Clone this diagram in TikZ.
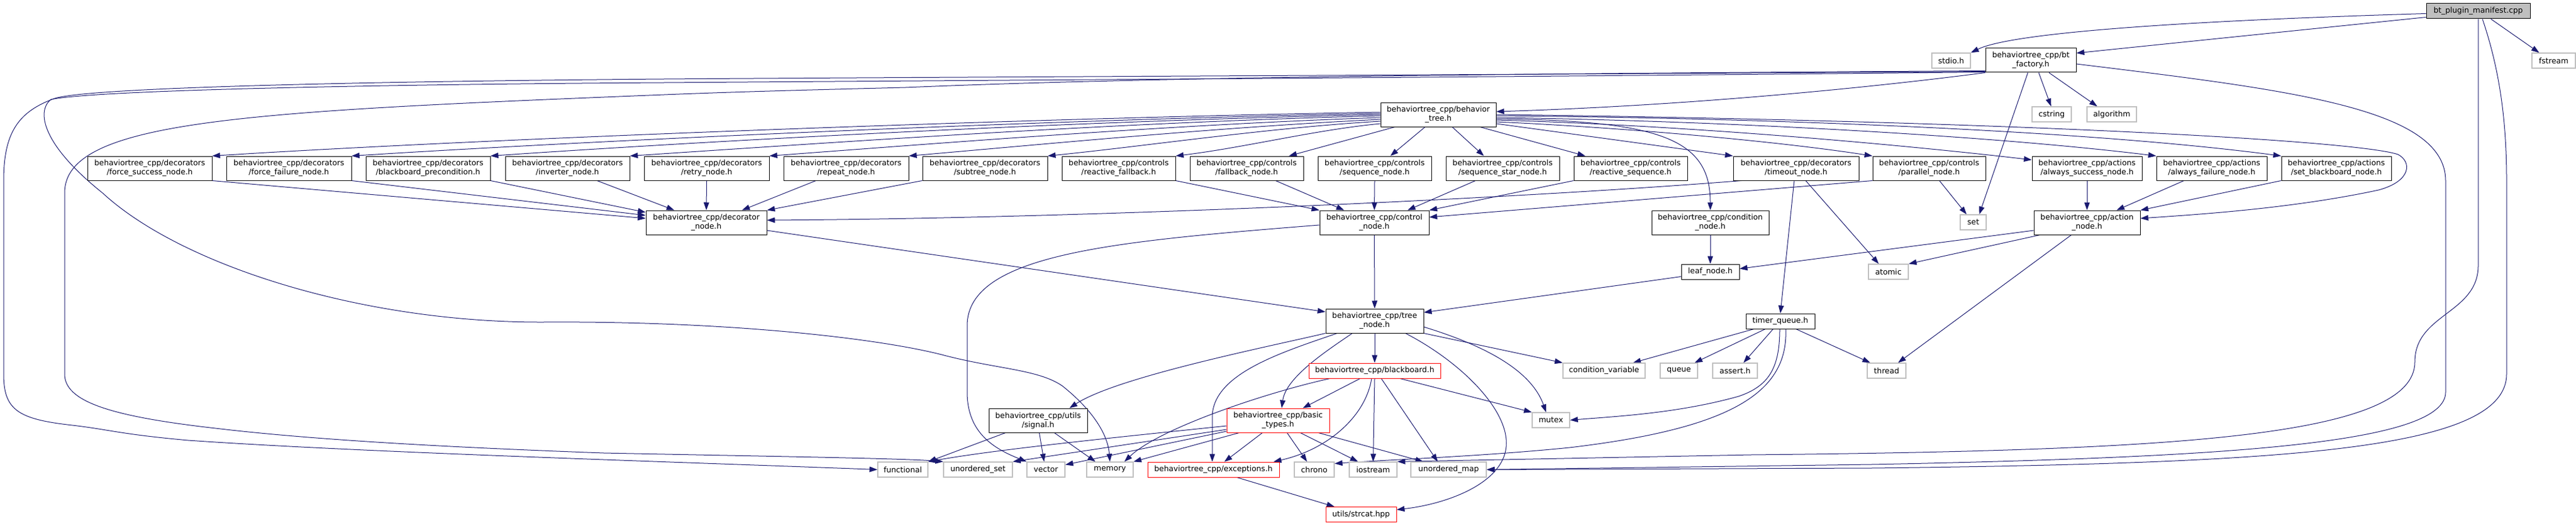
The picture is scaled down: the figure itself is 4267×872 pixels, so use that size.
\documentclass[tikz,border=0pt]{standalone}
\usepackage{fontspec}
\setmainfont{DejaVu Sans}
\usetikzlibrary{arrows.meta}
\definecolor{edgec}{HTML}{191970}
\definecolor{sysg}{HTML}{BFBFBF}
\definecolor{trred}{HTML}{FF0000}
\pgfdeclarelayer{bg}
\pgfsetlayers{bg,main}
\newcommand{\nodefnt}{\fontsize{12.7}{15}\selectfont}
\begin{document}
\begin{tikzpicture}[x=1pt,y=-1pt,
  box/.style={rectangle,draw=black,fill=white,line width=1pt,inner sep=0pt,align=center,font=\nodefnt,minimum height=40pt},
  one/.style={minimum height=25pt},
  sys/.style={box,one,draw=sysg,line width=1.3pt},
  trc/.style={draw=trred},
  edg/.style={draw=edgec,line width=1pt,-{Triangle[length=13pt,width=9pt]}}]
\useasboundingbox (0,0) rectangle (4267,872);
% ---------- nodes ----------
\node[box,one,fill=sysg,minimum width=172pt] (man) at (4105,18.5) {bt\_plugin\_manifest.cpp};
\node[box,minimum width=150pt] (fac) at (3364,100) {behaviortree\_cpp/bt\\\_factory.h};
\node[sys,minimum width=64pt] (stdio) at (3232,100.5) {stdio.h};
\node[sys,minimum width=72pt] (fstr) at (4230,100.5) {fstream};
\node[sys,minimum width=65pt] (cstr) at (3398.5,189.5) {cstring};
\node[sys,minimum width=82pt] (algo) at (3498,189.5) {algorithm};
\node[box,minimum width=191pt] (bt) at (2382.5,190) {behaviortree\_cpp/behavior\\\_tree.h};
\node[box,minimum width=206pt] (fs) at (248,279) {behaviortree\_cpp/decorators\\/force\_success\_node.h};
\node[box,minimum width=207pt] (ff) at (478.5,279) {behaviortree\_cpp/decorators\\/force\_failure\_node.h};
\node[box,minimum width=206pt] (bbp) at (709,279) {behaviortree\_cpp/decorators\\/blackboard\_precondition.h};
\node[box,minimum width=206pt] (inv) at (940,279) {behaviortree\_cpp/decorators\\/inverter\_node.h};
\node[box,minimum width=207pt] (retry) at (1170.5,279) {behaviortree\_cpp/decorators\\/retry\_node.h};
\node[box,minimum width=207pt] (rep) at (1401.5,279) {behaviortree\_cpp/decorators\\/repeat\_node.h};
\node[box,minimum width=207pt] (sub) at (1631.5,279) {behaviortree\_cpp/decorators\\/subtree\_node.h};
\node[box,minimum width=188pt] (rfb) at (1853,279) {behaviortree\_cpp/controls\\/reactive\_fallback.h};
\node[box,minimum width=188pt] (fb) at (2065,279) {behaviortree\_cpp/controls\\/fallback\_node.h};
\node[box,minimum width=188pt] (seq) at (2277,279) {behaviortree\_cpp/controls\\/sequence\_node.h};
\node[box,minimum width=188pt] (seqs) at (2489,279) {behaviortree\_cpp/controls\\/sequence\_star\_node.h};
\node[box,minimum width=188pt] (rseq) at (2701,279) {behaviortree\_cpp/controls\\/reactive\_sequence.h};
\node[box,minimum width=208pt] (tmo) at (2975,279) {behaviortree\_cpp/decorators\\/timeout\_node.h};
\node[box,minimum width=187pt] (par) at (3195.5,279) {behaviortree\_cpp/controls\\/parallel\_node.h};
\node[box,minimum width=182pt] (as) at (3457,279) {behaviortree\_cpp/actions\\/always\_success\_node.h};
\node[box,minimum width=183pt] (af) at (3663.5,279) {behaviortree\_cpp/actions\\/always\_failure\_node.h};
\node[box,minimum width=182pt] (sb) at (3870,279) {behaviortree\_cpp/actions\\/set\_blackboard\_node.h};
\node[box,minimum width=200pt] (dec) at (1170,369) {behaviortree\_cpp/decorator\\\_node.h};
\node[box,minimum width=181pt] (ctrl) at (2276.5,369) {behaviortree\_cpp/control\\\_node.h};
\node[box,minimum width=194pt] (cond) at (2833,369) {behaviortree\_cpp/condition\\\_node.h};
\node[sys,minimum width=43pt] (setn) at (3268.5,368.5) {set};
\node[box,minimum width=176pt] (act) at (3457,369) {behaviortree\_cpp/action\\\_node.h};
\node[box,one,minimum width=96pt] (leaf) at (2833,450.5) {leaf\_node.h};
\node[sys,minimum width=66pt] (atom) at (3128,450.5) {atomic};
\node[box,minimum width=162pt] (tn) at (2277,532) {behaviortree\_cpp/tree\\\_node.h};
\node[box,one,minimum width=114pt] (tq) at (2949,532.5) {timer\_queue.h};
\node[box,one,trc,minimum width=218pt] (bb) at (2277,614.5) {behaviortree\_cpp/blackboard.h};
\node[sys,minimum width=136pt] (cv) at (2657,614.5) {condition\_variable};
\node[sys,minimum width=62pt] (que) at (2781,614.5) {queue};
\node[sys,minimum width=74pt] (asrt) at (2874,614.5) {assert.h};
\node[sys,minimum width=64pt] (thr) at (3125,614.5) {thread};
\node[box,minimum width=163pt] (sig) at (1719.5,697) {behaviortree\_cpp/utils\\/signal.h};
\node[box,trc,minimum width=170pt] (basic) at (2117,697) {behaviortree\_cpp/basic\\\_types.h};
\node[sys,minimum width=62pt] (mtx) at (2569,696.5) {mutex};
\node[sys,minimum width=83pt] (func) at (1495.5,778.5) {functional};
\node[sys,minimum width=114pt] (uset) at (1620,778.5) {unordered\_set};
\node[sys,minimum width=63pt] (vec) at (1732.5,778.5) {vector};
\node[sys,minimum width=77pt] (mem) at (1838.5,778.5) {memory};
\node[box,one,trc,minimum width=218pt] (exc) at (2010,778.5) {behaviortree\_cpp/exceptions.h};
\node[sys,minimum width=66pt] (chr) at (2177,778.5) {chrono};
\node[sys,minimum width=79pt] (ios) at (2274.5,778.5) {iostream};
\node[sys,minimum width=125pt] (umap) at (2399.5,778.5) {unordered\_map};
\node[box,one,trc,minimum width=117pt] (strc) at (2254.5,853) {utils/strcat.hpp};
% ---------- edges ----------
\begin{pgfonlayer}{bg}
\fill[white] (0,0) rectangle (4267,872);
% manifest
\draw[edg] ([yshift=-10pt]man.west) -- ([yshift=12pt]fac.east);
\draw[edg] ([yshift=-4pt]man.west) .. controls (3600,35) and (3330,55) .. (stdio.north east);
\draw[edg] ([xshift=21pt]man.south) -- ([xshift=-24pt]fstr.north);
\draw[edg] (man.south) -- (4105,440) .. controls (4105,520) and (4000,520) .. (4000,600) .. controls (4000,725) and (3600,747) .. (2900,754) -- (ios.north east);
\draw[edg] ([xshift=7pt]man.south) .. controls (4135,100) and (4152,180) .. (4152,300) -- (4152,620) .. controls (4152,745) and (3800,768) .. (3100,776) -- (umap.east);
% bt_factory
\draw[edg] ([yshift=-6pt]fac.east) .. controls (3800,150) and (4051,180) .. (4051,300) -- (4051,650) .. controls (4051,735) and (3700,758) .. (3100,770) -- (umap.east);
\draw[edg] ([xshift=13pt]fac.south) -- ([xshift=-1pt]cstr.north);
\draw[edg] ([xshift=30pt]fac.south) -- ([xshift=-24pt]algo.north);
\draw[edg] ([xshift=-5pt]fac.south) -- ([xshift=10pt]setn.north);
\draw[edg] (fac.south west) .. controls (3100,145) and (2800,175) .. ([yshift=5pt]bt.east);
\draw[edg] ([yshift=2pt]fac.south west) .. controls (2500,124) and (1500,128) .. (1100,131) .. controls (600,135) and (150,145) .. (91,163) .. controls (30,185) and (6,220) .. (6,300) -- (6,620) .. controls (6,680) and (30,695) .. (120,705) .. controls (180,712) and (200,720) .. (312,730) .. controls (600,750) and (1100,765) .. (func.west);
\draw[edg] ([yshift=1pt]fac.south west) .. controls (2500,128) and (1500,134) .. (1100,137) .. controls (600,140) and (150,150) .. (84,165) .. controls (60,185) and (70,240) .. (170,320) .. controls (300,440) and (600,535) .. (900,534) .. controls (1200,532) and (1450,560) .. (1560,588) .. controls (1650,612) and (1720,612) .. (1760,640) .. controls (1810,680) and (1835,720) .. (mem.north);
\draw[edg] ([yshift=3pt]fac.south west) .. controls (2500,122) and (1900,128) .. (1500,145) .. controls (1300,150) and (1200,153) .. (1100,157) .. controls (400,185) and (107,200) .. (107,320) -- (107,620) .. controls (107,665) and (180,690) .. (357,710) .. controls (500,727) and (700,740) .. (1000,751) .. controls (1300,757) and (1500,760) .. (uset.north west);
% behavior_tree left fan
\draw[edg] ([yshift=4pt]bt.west) .. controls (1700,196) and (800,230) .. (fs.north east);
\draw[edg] ([yshift=2pt]bt.west) .. controls (1750,198) and (1000,232) .. (ff.north east);
\draw[edg] (bt.west) .. controls (1800,200) and (1200,232) .. (bbp.north east);
\draw[edg] ([yshift=-2pt]bt.west) .. controls (1850,203) and (1400,235) .. (inv.north east);
\draw[edg] ([yshift=-5pt]bt.west) .. controls (1950,206) and (1550,238) .. (retry.north east);
\draw[edg] ([yshift=-8pt]bt.west) .. controls (2030,210) and (1720,240) .. (rep.north east);
\draw[edg] ([yshift=-11pt]bt.west) .. controls (2100,212) and (1900,242) .. (sub.north east);
\draw[edg] ([yshift=-15pt]bt.west) .. controls (2180,215) and (2060,245) .. (rfb.north east);
% behavior_tree bottom
\draw[edg] ([xshift=-72pt]bt.south) -- ([xshift=70pt]fb.north);
\draw[edg] ([xshift=-22pt]bt.south) -- ([xshift=26pt]seq.north);
\draw[edg] ([xshift=23pt]bt.south) -- ([xshift=-31pt]seqs.north);
\draw[edg] ([xshift=69pt]bt.south) -- ([xshift=-75pt]rseq.north);
% behavior_tree right fan
\draw[edg] ([yshift=-7pt]bt.east) .. controls (2750,200) and (2833,230) .. (cond.north);
\draw[edg] ([yshift=-15pt]bt.east) -- (tmo.north west);
\draw[edg] ([yshift=-12pt]bt.east) .. controls (2700,212) and (2950,235) .. (par.north west);
\draw[edg] ([yshift=-9pt]bt.east) .. controls (2800,208) and (3150,240) .. ([yshift=14pt]as.west);
\draw[edg] ([yshift=-5pt]bt.east) .. controls (2850,200) and (3300,225) .. (af.north west);
\draw[edg] ([yshift=-2pt]bt.east) .. controls (2900,195) and (3450,215) .. (sb.north west);
\draw[edg] (bt.east) .. controls (3300,200) and (3900,232) .. (3972,256) .. controls (3995,268) and (3995,300) .. (3940,315) .. controls (3800,345) and (3650,355) .. ([yshift=7pt]act.east);
% decorators -> decorator_node
\draw[edg] (fs.south east) -- ([yshift=7pt]dec.west);
\draw[edg] (ff.south east) -- ([yshift=12pt]dec.west);
\draw[edg] (bbp.south east) -- ([yshift=17pt]dec.west);
\draw[edg] ([xshift=49pt]inv.south) -- ([xshift=-53pt]dec.north);
\draw[edg] (retry.south) -- (dec.north);
\draw[edg] ([xshift=-50pt]rep.south) -- ([xshift=59pt]dec.north);
\draw[edg] (sub.south west) -- (dec.north east);
\draw[edg] ([xshift=14pt]tmo.south west) .. controls (2500,330) and (1800,362) .. ([yshift=4pt]dec.east);
% controls -> control_node
\draw[edg] (rfb.south east) -- (ctrl.north west);
\draw[edg] ([xshift=48pt]fb.south) -- ([xshift=-50pt]ctrl.north);
\draw[edg] (seq.south) -- (ctrl.north);
\draw[edg] ([xshift=-45pt]seqs.south) -- ([xshift=55pt]ctrl.north);
\draw[edg] (rseq.south west) -- (ctrl.north east);
\draw[edg] (par.south west) -- ([yshift=9pt]ctrl.east);
% actions -> action_node
\draw[edg] (as.south) -- (act.north);
\draw[edg] ([xshift=-46pt]af.south) -- ([xshift=49pt]act.north);
\draw[edg] (sb.south west) -- (act.north east);
% timeout, parallel
\draw[edg] ([xshift=-3pt]tmo.south) -- (tq.north);
\draw[edg] ([xshift=16pt]tmo.south) -- ([xshift=-16pt]atom.north);
\draw[edg] ([xshift=17pt]par.south) -- ([xshift=-11pt]setn.north);
% condition, action, leaf
\draw[edg] (cond.south) -- (leaf.north);
\draw[edg] ([yshift=-13pt]act.west) -- ([yshift=5pt]leaf.east);
\draw[edg] ([xshift=-78pt]act.south) -- (atom.north east);
\draw[edg] ([xshift=-26pt]act.south) -- ([xshift=19pt]thr.north);
\draw[edg] ([yshift=-8pt]leaf.west) -- ([yshift=14pt]tn.east);
\draw[edg] (ctrl.south) -- (tn.north);
\draw[edg] ([yshift=-13pt]dec.east) -- ([yshift=15pt]tn.west);
\draw[edg] ([yshift=-4pt]ctrl.west) .. controls (1850,400) and (1602,420) .. (1602,540) -- (1602,650) .. controls (1602,720) and (1650,745) .. (vec.north west);
% tree_node
\draw[edg] (tn.south) -- (bb.north);
\draw[edg] (tn.south west) .. controls (2100,575) and (1850,625) .. ([xshift=52pt]sig.north);
\draw[edg] ([xshift=-37pt]tn.south) .. controls (2200,580) and (2130,625) .. ([xshift=6pt]basic.north);
\draw[edg] ([xshift=-62pt]tn.south) .. controls (2120,585) and (2010,620) .. (2008,690) -- ([xshift=-2pt]exc.north);
\draw[edg] ([xshift=51pt]tn.south) .. controls (2420,600) and (2500,680) .. (2495,740) .. controls (2490,800) and (2400,835) .. ([yshift=8pt]strc.east);
\draw[edg] ([yshift=-10pt]tn.east) .. controls (2450,570) and (2535,610) .. ([xshift=-8pt]mtx.north);
\draw[edg] (tn.south east) -- (cv.north west);
% blackboard
\draw[edg] ([xshift=-74pt]bb.south) .. controls (2100,650) and (1920,710) .. ([xshift=24pt]mem.north);
\draw[edg] ([xshift=-24pt]bb.south) -- ([xshift=41pt]basic.north);
\draw[edg] ([xshift=-5pt]bb.south) .. controls (2262,690) and (2200,745) .. ([xshift=-10pt]exc.north east);
\draw[edg] (bb.south) -- (ios.north);
\draw[edg] ([xshift=11pt]bb.south) -- ([xshift=-18pt]umap.north);
\draw[edg] ([xshift=42pt]bb.south) -- (mtx.north west);
% basic_types
\draw[edg] ([xshift=-26pt]basic.south) -- ([xshift=18pt]exc.north);
\draw[edg] ([xshift=15pt]basic.south) -- ([xshift=-12pt]chr.north);
\draw[edg] ([xshift=37pt]basic.south) -- ([xshift=-25pt]ios.north);
\draw[edg] ([xshift=67pt]basic.south) -- ([xshift=-42pt]umap.north);
\draw[edg] ([xshift=21pt]basic.south west) -- (mem.north east);
\draw[edg] ([yshift=-18pt]basic.west) -- ([yshift=8pt]vec.east);
\draw[edg] ([yshift=-15pt]basic.west) -- (uset.north east);
\draw[edg] ([yshift=-9pt]basic.west) .. controls (1850,725) and (1650,745) .. (func.north east);
% signal
\draw[edg] ([xshift=-54pt]sig.south) -- (func.north east);
\draw[edg] ([xshift=2pt]sig.south) -- ([xshift=-3pt]vec.north);
\draw[edg] ([xshift=27pt]sig.south) -- ([xshift=-24pt]mem.north);
% exceptions
\draw[edg] ([xshift=39pt]exc.south) -- ([xshift=-44pt]strc.north);
% timer_queue
\draw[edg] ([xshift=-44pt]tq.south) -- ([xshift=48pt]cv.north);
\draw[edg] ([xshift=-25pt]tq.south) -- ([xshift=26pt]que.north);
\draw[edg] ([xshift=-12pt]tq.south) -- ([xshift=14pt]asrt.north);
\draw[edg] ([xshift=26pt]tq.south) -- ([xshift=-27pt]thr.north);
\draw[edg] ([xshift=-1pt]tq.south) .. controls (2948,610) and (2930,640) .. (2880,657) .. controls (2780,685) and (2680,690) .. (mtx.east);
\draw[edg] ([xshift=9pt]tq.south) .. controls (2962,650) and (2870,710) .. (2600,742) .. controls (2450,757) and (2300,762) .. ([yshift=10pt]chr.east);
\end{pgfonlayer}
\end{tikzpicture}
\end{document}
